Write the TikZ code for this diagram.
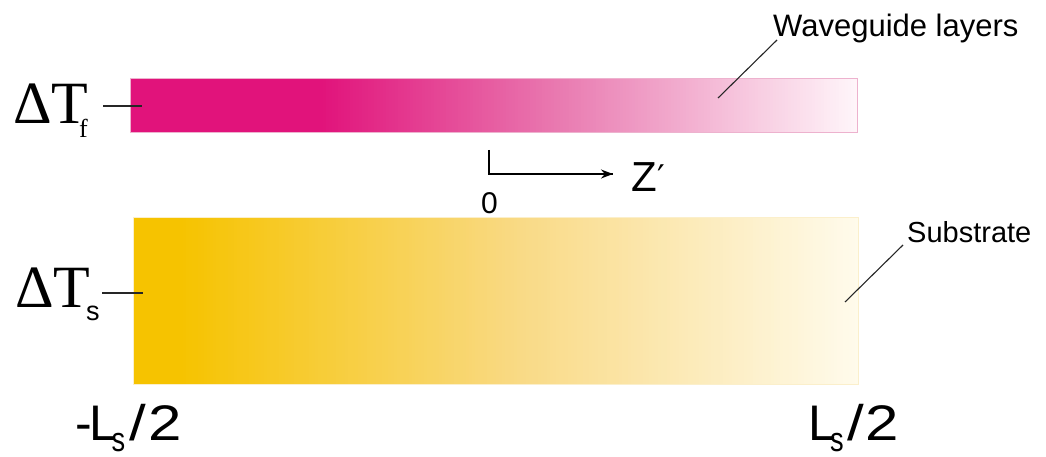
\documentclass[tikz,border=0pt]{standalone}
\usepackage{fontspec}
\setmainfont{Liberation Sans}
\newfontfamily\serifA{Liberation Serif}
\newfontfamily\djv{DejaVu Sans}
\usetikzlibrary{arrows.meta}
\definecolor{mag}{HTML}{E1137B}
\definecolor{magmid}{HTML}{E97BB1}
\definecolor{magend}{HTML}{FFF6FA}
\definecolor{magedge}{HTML}{EDB2CE}
\definecolor{yel}{HTML}{F6C300}
\definecolor{yelmid}{HTML}{F9DA86}
\definecolor{yelend}{HTML}{FFFBEC}
\definecolor{yeledge}{HTML}{FBEFCB}
\tikzset{
  lbl/.style={inner sep=0pt, anchor=base west, text=black},
  leader/.style={draw=black!85, line width=1.1pt},
  tick/.style={draw=black!85, line width=1.3pt},
}
\newcommand{\fsz}[1]{\fontsize{#1}{#1}\selectfont}
% gradient strip: #1 x0, #2 x1, #3 y0, #4 y1, #5 colour A, #6 colour B
\newcommand{\gradstrip}[6]{%
  \pgfmathsetmacro\gN{int(round((#2-#1)/3))}%
  \pgfmathsetmacro\gs{(#2-#1)/\gN}%
  \foreach \gi in {0,...,\gN}{%
    \pgfmathsetmacro\gp{int(round(100*\gi/\gN))}%
    \pgfmathsetmacro\gx{#1+\gi*\gs}%
    \pgfmathsetmacro\gxe{min(\gx+4,#2)}%
    \fill[#6!\gp!#5] (\gx,#3) rectangle (\gxe,#4);
  }}
\begin{document}
\begin{tikzpicture}[x=1pt,y=-1pt]
\useasboundingbox (0,0) rectangle (1046,457);
% waveguide bar
\fill[mag] (130,78) rectangle (321,132);
\gradstrip{320}{560}{78}{132}{mag}{magmid}
\gradstrip{560}{857}{78}{132}{magmid}{magend}
\node[draw=magedge, line width=0.6pt, inner sep=0pt, minimum width=727pt, minimum height=54pt, anchor=north west] (wg) at (130,78) {};
% substrate bar
\fill[yel] (133,217) rectangle (181,384);
\gradstrip{180}{520}{217}{384}{yel}{yelmid}
\gradstrip{520}{858}{217}{384}{yelmid}{yelend}
\node[draw=yeledge, line width=0.6pt, inner sep=0pt, minimum width=725pt, minimum height=167pt, anchor=north west] (sub) at (133,217) {};
% Delta T labels
\node[lbl, font=\serifA\fsz{60}] (dtf) at (13,124) {ΔT};
\node[lbl, font=\serifA\fsz{26}] (dtfs) at (79,138) {f};
\node[lbl, font=\serifA\fsz{60}] (dts) at (15,307) {ΔT};
\node[lbl, font=\fsz{27}] (dtss) at (86,320) {s};
\coordinate (tf1) at (103,106);
\coordinate (tf2) at (142,106);
\coordinate (ts1) at (102,293);
\coordinate (ts2) at (143,293);
\draw[tick] (tf1) -- (tf2);
\draw[tick] (ts1) -- (ts2);
% axis
\coordinate (o1) at (489,150);
\coordinate (o2) at (489,174);
\coordinate (o3) at (613,174);
\draw[line width=1.5pt] (o1) -- (o2) -- (o3);
\draw[line width=1.5pt, -{Stealth[length=12pt,width=9pt]}] (o2) -- (o3);
\node[lbl, font=\fsz{30}] (zero) at (481,213) {0};
\node[lbl, font=\fsz{42}] (zp) at (631,192) {Z\kern1pt\raisebox{2pt}{\djv\fsz{34}′}};
% labels with leaders
\node[lbl, font=\fsz{31}] (wgl) at (773,37) {Waveguide layers};
\coordinate (wa) at (777,40);
\coordinate (wb) at (718,98);
\draw[leader] (wa) -- (wb);
\node[lbl, font=\fsz{29}] (subl) at (907,242) {Substrate};
\coordinate (sa) at (903,245);
\coordinate (sb) at (845,302);
\draw[leader] (sa) -- (sb);
% Ls labels
\node[lbl, font=\fsz{50}] (lm) at (75,440) {-\kern-2pt L\kern-6pt\raisebox{-11pt}{\fsz{34}\scalebox{0.8}[1]{s}}\kern4pt\scalebox{1.2}[1]{/\kern2pt 2}};
\node[lbl, font=\fsz{50}] (lp) at (808,440) {L\kern-6pt\raisebox{-11pt}{\fsz{34}\scalebox{0.8}[1]{s}}\kern4pt\scalebox{1.2}[1]{/\kern1pt 2}};
\end{tikzpicture}
\end{document}
